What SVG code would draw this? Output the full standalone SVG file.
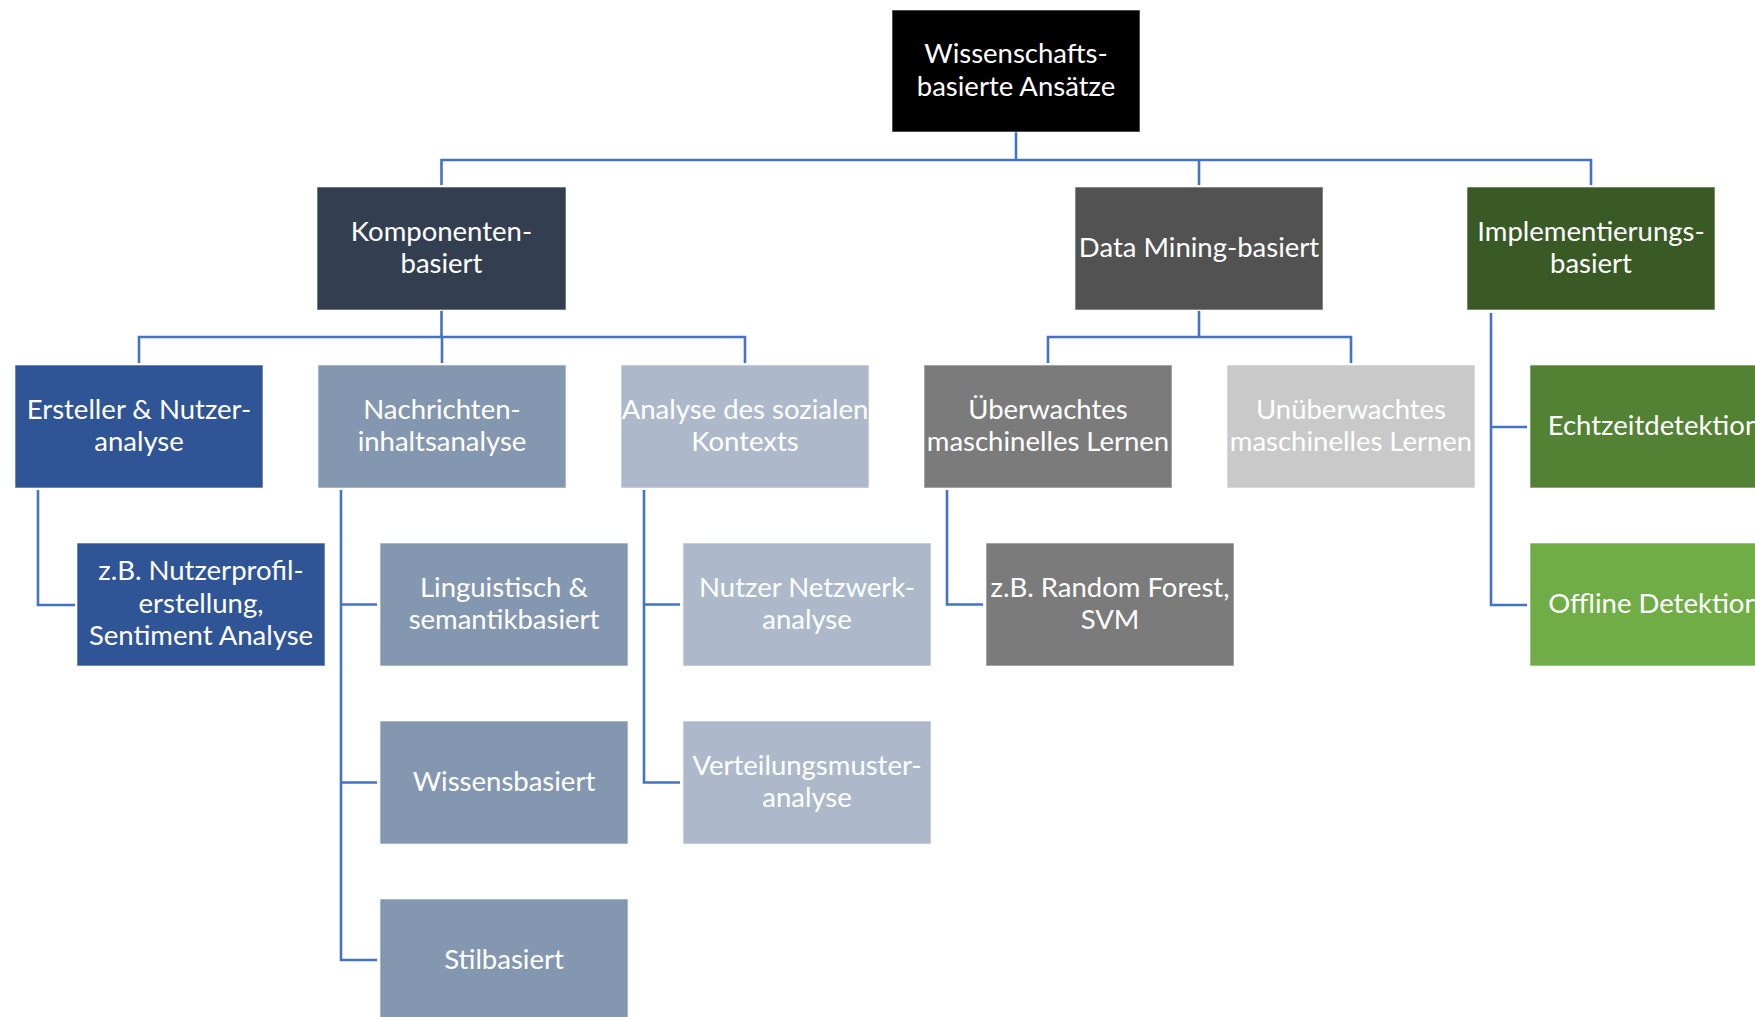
<svg xmlns="http://www.w3.org/2000/svg" width="1755" height="1017" viewBox="0 0 1755 1017">
<style>
.box{stroke:#ffffff;stroke-opacity:0.6;stroke-width:1}
.t{font-family:Lato,"Open Sans","DejaVu Sans",sans-serif;font-size:27.5px;fill:#ffffff;text-anchor:middle}
.c{fill:none;stroke:#4472C4;stroke-width:2.6}
</style>
<rect width="1755" height="1017" fill="#ffffff"/>
<g id="connectors">
<path class="c" d="M1016 132 V160"/>
<path class="c" d="M441.5 185 V160 H1591 V185"/>
<path class="c" d="M1199 160 V185"/>
<path class="c" d="M441.5 311 V337"/>
<path class="c" d="M139 363 V337 H745 V363"/>
<path class="c" d="M442 337 V363"/>
<path class="c" d="M1199 311 V337"/>
<path class="c" d="M1048 363 V337 H1351 V363"/>
<path class="c" d="M1491 313 V605 H1527"/>
<path class="c" d="M1491 427 H1527"/>
<path class="c" d="M38 490 V605 H75"/>
<path class="c" d="M341 490 V960 H377"/>
<path class="c" d="M341 604.5 H377"/>
<path class="c" d="M341 782.5 H377"/>
<path class="c" d="M644 490 V782.5 H680"/>
<path class="c" d="M644 604.5 H680"/>
<path class="c" d="M947 490 V604.5 H983"/>
</g>
<g id="root"><rect class="box" x="892" y="10" width="248" height="122" fill="#000000"/><text class="t" x="1016" y="63">Wissenschafts-</text><text class="t" x="1016" y="96">basierte Ansätze</text></g>
<g id="komponenten"><rect class="box" x="317" y="187" width="249" height="123" fill="#333F50"/><text class="t" x="441.5" y="240.5">Komponenten-</text><text class="t" x="441.5" y="273">basiert</text></g>
<g id="datamining"><rect class="box" x="1075" y="187" width="248" height="123" fill="#525252"/><text class="t" x="1199" y="257">Data Mining-basiert</text></g>
<g id="implementierung"><rect class="box" x="1467" y="187" width="248" height="123" fill="#3A5A25"/><text class="t" x="1591" y="240.5">Implementierungs-</text><text class="t" x="1591" y="273">basiert</text></g>
<g id="ersteller"><rect class="box" x="15" y="365" width="248" height="123" fill="#2F5597"/><text class="t" x="139" y="418.5">Ersteller &amp; Nutzer-</text><text class="t" x="139" y="451">analyse</text></g>
<g id="nachrichten"><rect class="box" x="318" y="365" width="248" height="123" fill="#8497B0"/><text class="t" x="442" y="418.5">Nachrichten-</text><text class="t" x="442" y="451">inhaltsanalyse</text></g>
<g id="sozial"><rect class="box" x="621" y="365" width="248" height="123" fill="#ADB9CA"/><text class="t" x="745" y="418.5">Analyse des sozialen</text><text class="t" x="745" y="451">Kontexts</text></g>
<g id="ueberwacht"><rect class="box" x="924" y="365" width="248" height="123" fill="#7B7B7B"/><text class="t" x="1048" y="418.5">Überwachtes</text><text class="t" x="1048" y="451">maschinelles Lernen</text></g>
<g id="unueberwacht"><rect class="box" x="1227" y="365" width="248" height="123" fill="#C9C9C9"/><text class="t" x="1351" y="418.5">Unüberwachtes</text><text class="t" x="1351" y="451">maschinelles Lernen</text></g>
<g id="echtzeit"><rect class="box" x="1530" y="365" width="248" height="123" fill="#548235"/><text class="t" x="1654" y="435">Echtzeitdetektion</text></g>
<g id="nutzerprofil"><rect class="box" x="77" y="543" width="248" height="123" fill="#2F5597"/><text class="t" x="201" y="580">z.B. Nutzerprofil-</text><text class="t" x="201" y="612.5">erstellung,</text><text class="t" x="201" y="645">Sentiment Analyse</text></g>
<g id="linguistisch"><rect class="box" x="380" y="543" width="248" height="123" fill="#8497B0"/><text class="t" x="504" y="596.5">Linguistisch &amp;</text><text class="t" x="504" y="629">semantikbasiert</text></g>
<g id="netzwerk"><rect class="box" x="683" y="543" width="248" height="123" fill="#ADB9CA"/><text class="t" x="807" y="596.5">Nutzer Netzwerk-</text><text class="t" x="807" y="629">analyse</text></g>
<g id="randomforest"><rect class="box" x="986" y="543" width="248" height="123" fill="#7B7B7B"/><text class="t" x="1110" y="596.5">z.B. Random Forest,</text><text class="t" x="1110" y="629">SVM</text></g>
<g id="offline"><rect class="box" x="1530" y="543" width="248" height="123" fill="#70AD47"/><text class="t" x="1654" y="613">Offline Detektion</text></g>
<g id="wissensbasiert"><rect class="box" x="380" y="721" width="248" height="123" fill="#8497B0"/><text class="t" x="504" y="791">Wissensbasiert</text></g>
<g id="verteilung"><rect class="box" x="683" y="721" width="248" height="123" fill="#ADB9CA"/><text class="t" x="807" y="774.5">Verteilungsmuster-</text><text class="t" x="807" y="807">analyse</text></g>
<g id="stilbasiert"><rect class="box" x="380" y="899" width="248" height="123" fill="#8497B0"/><text class="t" x="504" y="968.5">Stilbasiert</text></g>
</svg>
